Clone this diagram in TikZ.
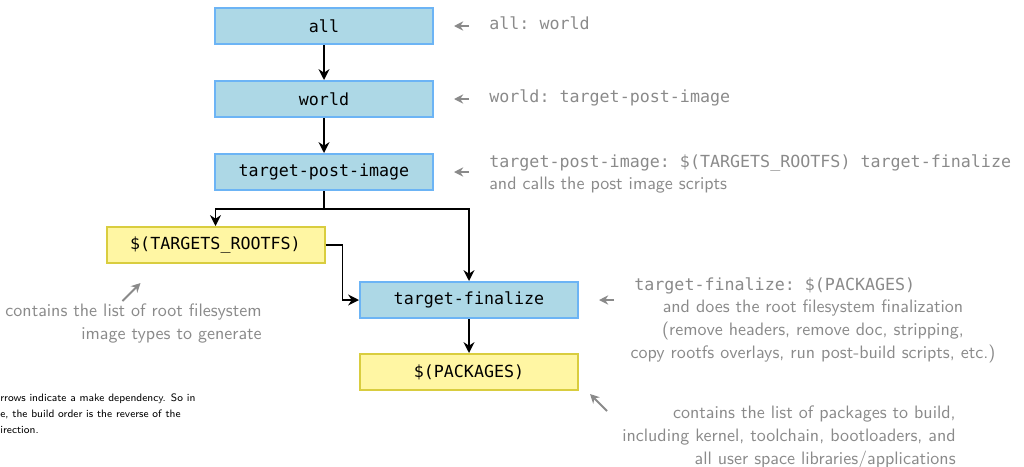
\documentclass[tikz,border=0pt]{standalone}
\usepackage{fontspec}
\setmonofont{DejaVu Sans Mono}
\usepackage{tikz}
\usetikzlibrary{calc}
\usetikzlibrary{arrows.meta}
\usetikzlibrary{positioning}
\definecolor{boxblue}{HTML}{ADD8E6}
\definecolor{boxblueline}{HTML}{6CB4F5}
\definecolor{boxyellow}{HTML}{FFF6A3}
\definecolor{boxyellowline}{HTML}{D9CD3F}
\definecolor{notegray}{HTML}{8A8A8A}

\begin{document}
\begin{tikzpicture}[x=0.6pt, y=-0.6pt,
    target/.style={draw=boxblueline, fill=boxblue, line width=1.2pt, minimum width=130.8pt, minimum height=21.6pt, inner sep=0pt, font=\fontsize{10}{12}\ttfamily},
    makevar/.style={target, draw=boxyellowline, fill=boxyellow},
    dep/.style={line width=1.1pt, -{Stealth[length=6.5pt, width=6.5pt]}},
    notearrow/.style={notegray, line width=1.2pt, -{Stealth[length=5.5pt, width=5.5pt]}},
    codenote/.style={notegray, inner sep=0pt, font=\fontsize{10}{12}\ttfamily},
    textnote/.style={notegray, inner sep=0pt, font=\fontsize{10.8}{13.6}\sffamily}]
    \useasboundingbox (0,0) rectangle (1024,466);

    % make targets
    \node[target] (all) at (324,26) {all};
    \node[target] (world) at (324,99) {world};
    \node[target] (postimage) at (324,172) {target-post-image};
    \node[makevar] (rootfs) at (215.5,245) {\$(TARGETS\_ROOTFS)};
    \node[target] (finalize) at (469,300) {target-finalize};
    \node[makevar] (packages) at (469,372) {\$(PACKAGES)};

    % dependencies
    \draw[dep] (all) -- (world);
    \draw[dep] (world) -- (postimage);
    \draw[line width=1.1pt] (postimage.south) -- ++(0,18) coordinate (split);
    \draw[dep] (split) -| (rootfs.north);
    \draw[dep] (split) -| (finalize.north);
    \draw[dep] (rootfs.east) -- ++(17,0) |- (finalize.west);
    \draw[dep] (finalize) -- (packages);

    % explanations
    \draw[notearrow] ($(all.east)+(35,0)$) -- ($(all.east)+(20,0)$);
    \node[codenote, anchor=base west] (allnote) at (489,29) {all: world};

    \draw[notearrow] ($(world.east)+(35,0)$) -- ($(world.east)+(20,0)$);
    \node[codenote, anchor=base west] (worldnote) at (489,102) {world: target-post-image};

    \draw[notearrow] ($(postimage.east)+(35,0)$) -- ($(postimage.east)+(20,0)$);
    \node[codenote, anchor=base west] (postimagenote) at (489,167) {target-post-image: \$(TARGETS\_ROOTFS) target-finalize};
    \node[textnote, anchor=base west] (postimagenote2) at (489,189) {and calls the post image scripts};

    \draw[notearrow] ($(rootfs.south west)+(17,37)$) -- ($(rootfs.south west)+(35,19)$);
    \node[textnote, align=right, anchor=base east] (rootfsnote) at (262,339) {contains the list of root filesystem\\image types to generate};

    \draw[notearrow] ($(finalize.east)+(35,0)$) -- ($(finalize.east)+(20,0)$);
    \node[codenote, anchor=base west] (finalizenote) at (634,290) {target-finalize: \$(PACKAGES)};
    \node[textnote, align=center, anchor=base] (finalizenote2) at (813,358) {and does the root filesystem finalization\\(remove headers, remove doc, stripping,\\copy rootfs overlays, run post-build scripts, etc.)};

    \draw[notearrow] ($(packages.south east)+(28,20)$) -- ($(packages.south east)+(11,3)$);
    \node[textnote, align=right, anchor=base east] (packagesnote) at (956,464) {contains the list of packages to build,\\including kernel, toolchain, bootloaders, and\\all user space libraries/applications};

    \node[inner sep=0pt, align=left, anchor=base west, font=\fontsize{6.45}{9.6}\sffamily] (legend) at (0,433) {rrows indicate a make dependency. So in\\e, the build order is the reverse of the\\irection.};
\end{tikzpicture}
\end{document}
